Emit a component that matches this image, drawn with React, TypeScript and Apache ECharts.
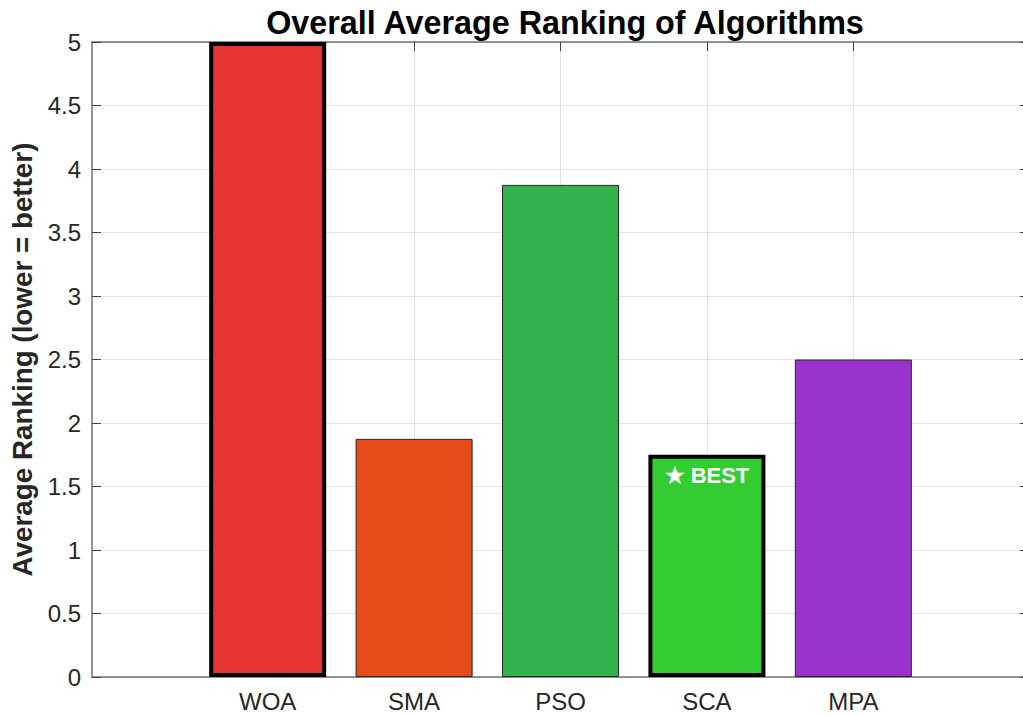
import React, { useEffect, useRef } from "react";
import * as echarts from "echarts";

const categories = ["WOA", "SMA", "PSO", "SCA", "MPA"];
const avgRanking = [5.0, 1.875, 3.875, 1.75, 2.5];
const barColors = ["#e63333", "#e64d1a", "#33b24d", "#33cc33", "#9933cc"];
const highlighted = [true, false, false, true, false];
const bestIndex = 3;
const yTicks = [0, 0.5, 1, 1.5, 2, 2.5, 3, 3.5, 4, 4.5, 5];

const FONT = "'Liberation Sans', Arial, Helvetica, sans-serif";
const AXIS_COLOR = "#707070";

export default function App() {
  const ref = useRef<HTMLDivElement>(null);
  useEffect(() => {
    if (!ref.current) return;
    const chart = echarts.init(ref.current, undefined, { renderer: "svg" });
    const positions = categories.map((_, i) => i + 1);
    const data = categories.map((name, i) => ({
      value: [positions[i], avgRanking[i]],
      name,
      itemStyle: {
        color: barColors[i],
        borderColor: highlighted[i] ? "#000000" : "#262626",
        borderWidth: highlighted[i] ? 4 : 1,
      },
      label:
        i === bestIndex
          ? {
              show: true,
              position: "insideTop",
              distance: 10,
              formatter: "★ BEST",
              color: "#ffffff",
              fontWeight: "bold",
              fontSize: 22,
              fontFamily: FONT,
            }
          : { show: false },
    }));
    const tickLen = 9;
    chart.setOption({
      animation: false,
      backgroundColor: "#ffffff",
      title: {
        text: "Overall Average Ranking of Algorithms",
        left: 560,
        top: 2,
        textAlign: "center",
        textStyle: {
          fontFamily: FONT,
          fontWeight: "bold",
          fontSize: 32.3,
          color: "#000000",
        },
      },
      grid: { left: 92, right: 0, top: 42, bottom: 38, containLabel: false },
      xAxis: [
        {
          type: "value",
          min: -0.2,
          max: 6.2,
          position: "bottom",
          axisLine: { show: true, onZero: false, lineStyle: { color: AXIS_COLOR, width: 1.5 } },
          axisTick: {
            show: true,
            inside: true,
            length: tickLen,
            customValues: positions,
            lineStyle: { color: "#404040", width: 1 },
          },
          axisLabel: {
            show: true,
            customValues: positions,
            formatter: (v: number) => categories[Math.round(v) - 1] ?? "",
            fontFamily: FONT,
            fontSize: 24,
            color: "#262626",
            margin: 12,
          },
          splitLine: { show: true, lineStyle: { color: "#e3e3e3", width: 1 } },
        },
        {
          type: "value",
          min: -0.2,
          max: 6.2,
          position: "top",
          axisLine: { show: true, onZero: false, lineStyle: { color: AXIS_COLOR, width: 1.5 } },
          axisTick: {
            show: true,
            inside: true,
            length: tickLen,
            customValues: positions,
            lineStyle: { color: "#404040", width: 1 },
          },
          axisLabel: { show: false },
          splitLine: { show: false },
        },
      ],
      yAxis: [
        {
          type: "value",
          min: 0,
          max: 5,
          interval: 0.5,
          position: "left",
          name: "Average Ranking (lower = better)",
          nameLocation: "middle",
          nameGap: 53,
          nameTextStyle: {
            fontFamily: FONT,
            fontWeight: "bold",
            fontSize: 27.8,
            color: "#262626",
          },
          axisLine: { show: true, onZero: false, lineStyle: { color: AXIS_COLOR, width: 1.5 } },
          axisTick: { show: true, inside: true, length: tickLen, lineStyle: { color: "#404040", width: 1 } },
          axisLabel: {
            fontFamily: FONT,
            fontSize: 24,
            color: "#262626",
            margin: 11,
            formatter: (v: number) => (yTicks.includes(v) ? String(v) : ""),
          },
          splitLine: { show: true, lineStyle: { color: "#e3e3e3", width: 1 } },
        },
        {
          type: "value",
          min: 0,
          max: 5,
          interval: 0.5,
          position: "right",
          axisLine: { show: true, onZero: false, lineStyle: { color: AXIS_COLOR, width: 1.5 } },
          axisTick: { show: true, inside: true, length: tickLen, lineStyle: { color: "#404040", width: 1 } },
          axisLabel: { show: false },
          splitLine: { show: false },
        },
      ],
      series: [
        {
          type: "bar",
          xAxisIndex: 0,
          yAxisIndex: 0,
          barWidth: 117,
          data,
        },
      ],
    });
    return () => chart.dispose();
  }, []);
  return (
    <div
      ref={ref}
      style={{ position: "fixed", left: 0, top: 0, width: 1029, height: 715 }}
    />
  );
}
